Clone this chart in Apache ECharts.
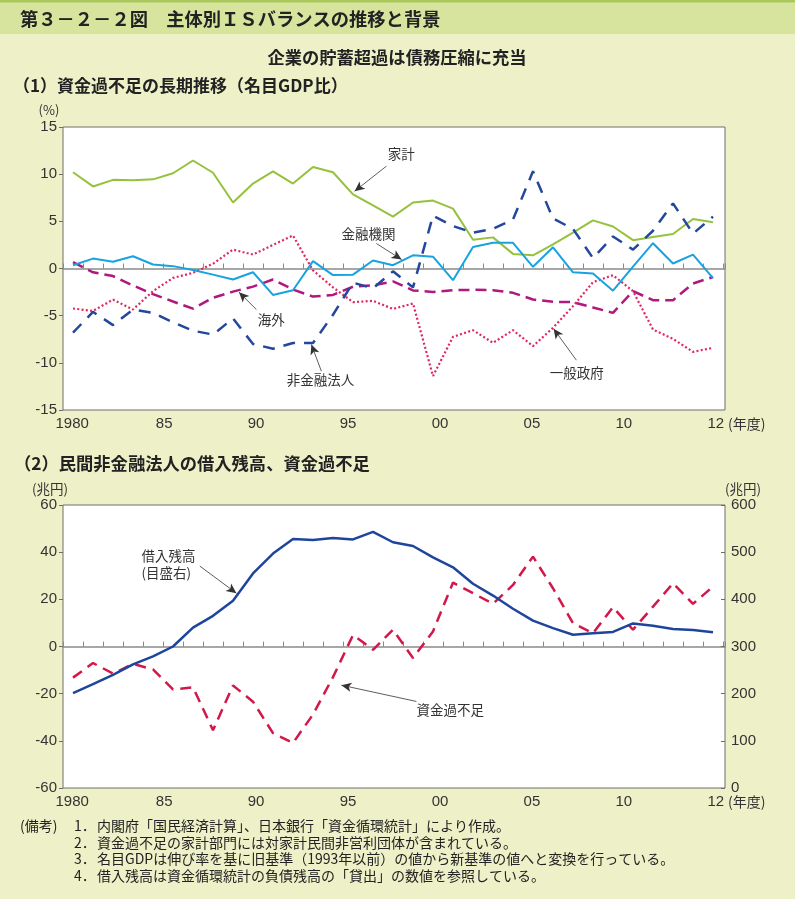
<!DOCTYPE html>
<html><head><meta charset="utf-8">
<script src="https://cdn.jsdelivr.net/npm/echarts@6/dist/echarts.min.js"></script>
<style>html,body{margin:0;padding:0;background:#EEF1C8;}#c{width:795px;height:899px;}</style>
</head><body><div id="c"></div>
<script>
// ---------- data ----------
const years = [1980,1981,1982,1983,1984,1985,1986,1987,1988,1989,1990,1991,1992,1993,1994,1995,1996,1997,1998,1999,2000,2001,2002,2003,2004,2005,2006,2007,2008,2009,2010,2011,2012];
const xTickLabels = ['1980','85','90','95','00','05','10','12'];
// (1) 資金過不足の長期推移（名目GDP比, %）
const household = [10.2,8.7,9.4,9.35,9.45,10.1,11.45,10.15,7.0,9.0,10.3,9.0,10.75,10.2,7.85,6.7,5.5,7.0,7.2,6.35,3.05,3.3,1.55,1.4,2.55,3.8,5.1,4.45,3.0,3.35,3.65,5.25,4.9];
const financial = [0.35,1.05,0.72,1.3,0.42,0.25,-0.15,-0.65,-1.17,-0.4,-2.8,-2.3,0.78,-0.7,-0.65,0.85,0.35,1.4,1.25,-1.24,2.28,2.72,2.72,0.18,2.25,-0.4,-0.53,-2.35,0.2,2.68,0.53,1.48,-1.02];
const overseas = [0.67,-0.4,-0.8,-1.8,-2.72,-3.5,-4.26,-3.1,-2.45,-1.92,-1.17,-2.23,-2.98,-2.8,-1.93,-1.78,-1.37,-2.32,-2.5,-2.3,-2.26,-2.3,-2.58,-3.29,-3.53,-3.57,-4.13,-4.7,-2.4,-3.36,-3.36,-1.59,-0.9];
const government = [-4.24,-4.5,-3.3,-4.35,-2.4,-1.0,-0.46,0.5,2.0,1.48,2.5,3.5,-0.2,-2.0,-3.57,-3.43,-4.28,-3.71,-11.4,-7.24,-6.54,-7.88,-6.54,-8.23,-6.29,-3.99,-1.45,-0.71,-2.4,-6.47,-7.46,-8.83,-8.41];
const nonFinancial = [-6.8,-4.6,-6.0,-4.35,-4.7,-5.7,-6.6,-7.0,-5.3,-8.0,-8.5,-7.9,-7.9,-4.9,-1.5,-2.1,-0.3,-2.0,5.6,4.5,3.8,4.2,5.2,10.3,5.3,4.2,1.1,3.4,2.0,4.0,6.9,3.7,5.5];
// (2) 民間非金融法人の借入残高（兆円, 右目盛）、資金過不足（兆円）
const borrowing = [201,220,240,262,279,300,340,365,397,455,497,528,526,530,527,543,521,513,489,468,433,408,380,355,339,325,328,331,349,344,337,335,330];
const fundBalance = [-13.2,-7.0,-11.5,-7.4,-9.7,-18.2,-17.3,-35.5,-16.5,-23.4,-36.7,-40.9,-28.8,-13.0,4.9,-1.4,7.1,-4.9,6.4,27.1,22.6,18.1,26.1,38.1,24.7,9.9,5.6,16.7,7.1,16.9,26.8,18.1,25.4];
// annotations (data coordinates)
const notes1 = [
  {text:'家計', at:[1995.74,12.1], from:[1995.67,10.85], to:[1994.08,8.19]},
  {text:'金融機関', at:[1993.42,3.7], from:[1995.17,2.65], to:[1996.43,0.95]},
  {text:'海外', at:[1989.24,-5.4], from:[1989.17,-4.35], to:[1988.3,-2.51]},
  {text:'非金融法人', at:[1990.69,-11.85], from:[1992.42,-10.89], to:[1991.92,-8.06]},
  {text:'一般政府', at:[2003.84,-11.1], from:[2005.17,-9.72], to:[2004.03,-6.39]}
];
const notes2 = [
  {text:'借入残高\n(目盛右)', at:[1983.42,34.8], from:[1986.34,34.1], to:[1988.17,22.6]},
  {text:'資金過不足', at:[1997.17,-26.8], from:[1997.17,-23.3], to:[1993.42,-16.4]}
];
const footnotes = [
  ['(備考)','1．','内閣府「国民経済計算」、日本銀行「資金循環統計」により作成。'],
  ['','2．','資金過不足の家計部門には対家計民間非営利団体が含まれている。'],
  ['','3．','名目GDPは伸び率を基に旧基準（1993年以前）の値から新基準の値へと変換を行っている。'],
  ['','4．','借入残高は資金循環統計の負債残高の「貸出」の数値を参照している。']
];

// ---------- helpers ----------
const FONT = "'Liberation Sans','Noto Sans CJK JP',sans-serif";
const JFONT = "'Noto Sans CJK JP',sans-serif";
const labelSlots = new Array(36).fill('');
xTickLabels.forEach((t,i)=>{ labelSlots[i<7 ? i*5 : 35] = t; });
const pairs = arr => years.map((y,i)=>[y,arr[i]]);

function notePoints(notes){
  return notes.map(n=>({coord:n.at, symbol:'rect', symbolSize:1, itemStyle:{color:'rgba(0,0,0,0)'},
    label:{show:true, position:'inside', align:'left', formatter:n.text, color:'#333', fontSize:13.5, lineHeight:17, fontFamily:JFONT}}));
}
function noteLines(notes){
  return notes.map(n=>[{coord:n.from},{coord:n.to}]);
}
const annoLine = notes => ({silent:true, animation:false, symbol:['none','arrow'], symbolSize:[7,10],
  lineStyle:{type:'solid', color:'#333', width:0.8}, label:{show:false}, emphasis:{disabled:true}, data:noteLines(notes)});
const annoPoint = notes => ({silent:true, animation:false, data:notePoints(notes)});

const G1 = {left:63, top:127, width:662, height:283};
const G2 = {left:63, top:505, width:662, height:283};
const axisLbl = {fontSize:15, color:'#333', fontFamily:FONT};

function dataXAxis(grid, yIdx){
  return {type:'value', gridIndex:grid, min:1979.5, max:2012.6, interval:1,
    axisLine:{show:true, onZero:true, onZeroAxisIndex:yIdx, lineStyle:{color:'#8a8a8a', width:1.5}},
    axisTick:{show:true, inside:true, length:5, lineStyle:{color:'#8a8a8a', width:1}},
    axisLabel:{show:false}, splitLine:{show:false}};
}
function labelXAxis(grid){
  return {type:'category', gridIndex:grid, data:labelSlots, boundaryGap:true, position:'bottom',
    axisLine:{show:false, onZero:false}, axisTick:{show:false},
    axisLabel:Object.assign({interval:0, margin:6, hideOverlap:false}, axisLbl),
    name:'(年度)', nameLocation:'end', nameGap:-2,
    nameTextStyle:{fontSize:14, color:'#333', fontFamily:JFONT, verticalAlign:'top', padding:[7,0,0,0]}};
}

const option = {
  backgroundColor:'#EEF1C8',
  animation:false,
  grid:[
    Object.assign({show:true, backgroundColor:'#fff', borderColor:'#6e6e6e', borderWidth:1}, G1),
    Object.assign({show:false}, G1),
    Object.assign({show:true, backgroundColor:'#fff', borderColor:'#6e6e6e', borderWidth:1}, G2),
    Object.assign({show:false}, G2)
  ],
  xAxis:[ dataXAxis(0,0), labelXAxis(1), dataXAxis(2,2), labelXAxis(3) ],
  yAxis:[
    {type:'value', gridIndex:0, min:-15, max:15, interval:5,
     axisLine:{show:false}, axisTick:{show:true, length:4, lineStyle:{color:'#6e6e6e'}},
     axisLabel:Object.assign({margin:6}, axisLbl), splitLine:{show:false},
     name:'(%)', nameLocation:'end', nameGap:10,
     nameTextStyle:{fontSize:13, color:'#333', fontFamily:JFONT, align:'center', padding:[0,28,0,0]}},
    {type:'value', gridIndex:1, min:0, max:1, show:false},
    {type:'value', gridIndex:2, min:-60, max:60, interval:20,
     axisLine:{show:false}, axisTick:{show:true, length:4, lineStyle:{color:'#6e6e6e'}},
     axisLabel:Object.assign({margin:6}, axisLbl), splitLine:{show:false},
     name:'(兆円)', nameLocation:'end', nameGap:9,
     nameTextStyle:{fontSize:13.5, color:'#333', fontFamily:JFONT, align:'center', padding:[0,26,0,0]}},
    {type:'value', gridIndex:2, position:'right', min:0, max:600, interval:100,
     axisLine:{show:false}, axisTick:{show:true, inside:true, length:4, lineStyle:{color:'#6e6e6e'}},
     axisLabel:Object.assign({margin:6}, axisLbl), splitLine:{show:false},
     name:'(兆円)', nameLocation:'end', nameGap:9,
     nameTextStyle:{fontSize:13.5, color:'#333', fontFamily:JFONT, align:'center', padding:[0,0,0,36]}},
    {type:'value', gridIndex:3, min:0, max:1, show:false}
  ],
  series:[
    {name:'家計', type:'line', xAxisIndex:0, yAxisIndex:0, data:pairs(household), symbol:'none',
     lineStyle:{color:'#95C13C', width:2}, z:3, markLine:annoLine(notes1), markPoint:annoPoint(notes1)},
    {name:'金融機関', type:'line', xAxisIndex:0, yAxisIndex:0, data:pairs(financial), symbol:'none',
     lineStyle:{color:'#17A3E0', width:2}, z:4},
    {name:'海外', type:'line', xAxisIndex:0, yAxisIndex:0, data:pairs(overseas), symbol:'none',
     lineStyle:{color:'#B0187F', width:2.5, type:[11,6]}, z:3},
    {name:'一般政府', type:'line', xAxisIndex:0, yAxisIndex:0, data:pairs(government), symbol:'none',
     lineStyle:{color:'#E0265E', width:2.2, type:[2,2.3]}, z:3},
    {name:'非金融法人', type:'line', xAxisIndex:0, yAxisIndex:0, data:pairs(nonFinancial), symbol:'none',
     lineStyle:{color:'#23479C', width:2.5, type:[12,9]}, z:3},
    {name:'資金過不足', type:'line', xAxisIndex:2, yAxisIndex:2, data:pairs(fundBalance), symbol:'none',
     lineStyle:{color:'#D3174A', width:2.5, type:[11,7]}, z:3, markLine:annoLine(notes2), markPoint:annoPoint(notes2)},
    {name:'借入残高', type:'line', xAxisIndex:2, yAxisIndex:3, data:pairs(borrowing), symbol:'none',
     lineStyle:{color:'#1E459C', width:2.5}, z:3}
  ],
  graphic:[]
};

// header & text decorations
const g = option.graphic;
g.push({type:'rect', shape:{x:0,y:0,width:795,height:34}, style:{fill:'#D6E49E'}, silent:true});
g.push({type:'rect', shape:{x:0,y:0,width:795,height:2.5}, style:{fill:'#A9C95C'}, silent:true});
function txt(x,y,text,size,weight,align,family){
  g.push({type:'text', x:x, y:y, silent:true, style:{text:text, fontSize:size, fontWeight:weight||'normal',
    fontFamily:family||JFONT, fill:'#222', align:align||'left', verticalAlign:'middle', textAlign:align||'left', textVerticalAlign:'middle'}});
}
txt(20,19,'第３－２－２図　主体別ＩＳバランスの推移と背景',18.3,'bold');
txt(397,57,'企業の貯蓄超過は債務圧縮に充当',17.3,'bold','center');
txt(13,86,'（1）資金過不足の長期推移（名目GDP比）',17,'bold');
txt(14,463,'（2）民間非金融法人の借入残高、資金過不足',17.3,'bold');
footnotes.forEach((f,i)=>{
  const y = 826 + i*16.5;
  if (f[0]) txt(20,y,f[0],14,'normal');
  txt(74,y,f[1],14,'normal');
  txt(97,y,f[2],14,'normal');
});

const chart = echarts.init(document.getElementById('c'), null, {renderer:'canvas'});
chart.setOption(option);
</script>
</body></html>
